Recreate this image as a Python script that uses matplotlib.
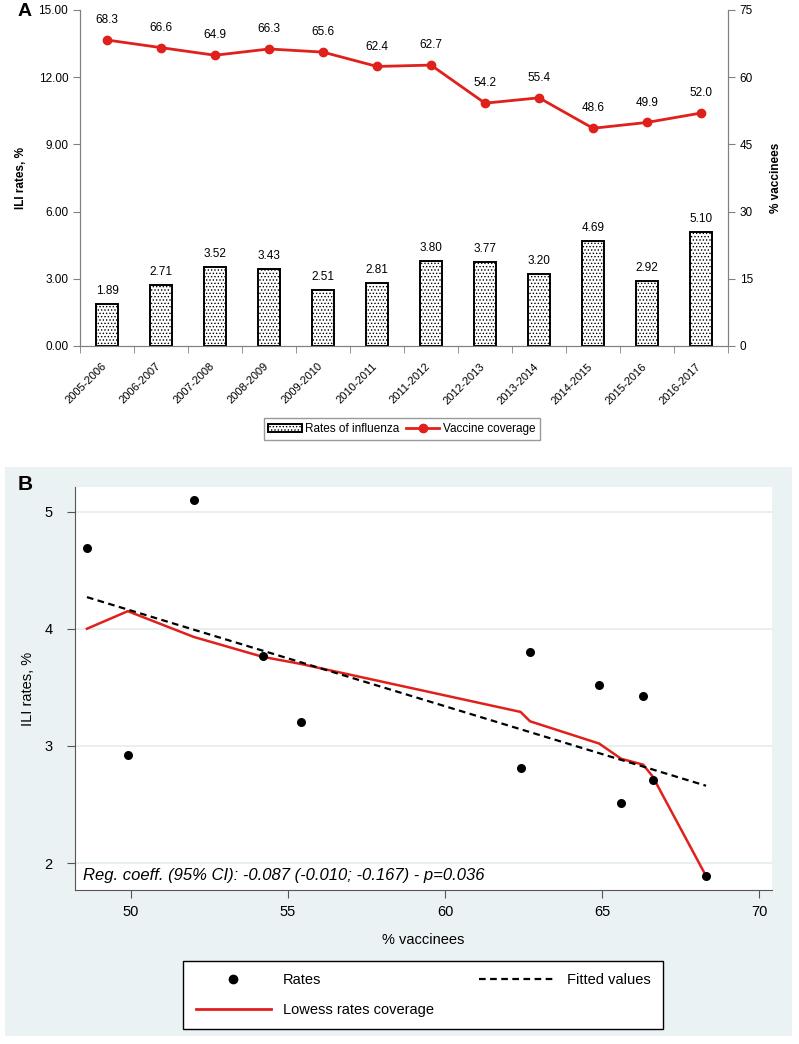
import matplotlib
matplotlib.use('Agg')
import matplotlib.pyplot as plt
import numpy as np
from matplotlib.patches import Rectangle
from matplotlib.lines import Line2D
from matplotlib.transforms import ScaledTranslation

plt.rcParams['font.family'] = ['Liberation Sans', 'DejaVu Sans']
plt.rcParams['hatch.linewidth'] = 0.6

# Panel A data
seasons = ['2005-2006', '2006-2007', '2007-2008', '2008-2009', '2009-2010', '2010-2011',
           '2011-2012', '2012-2013', '2013-2014', '2014-2015', '2015-2016', '2016-2017']
ili_rates = [1.89, 2.71, 3.52, 3.43, 2.51, 2.81, 3.80, 3.77, 3.20, 4.69, 2.92, 5.10]
coverage = [68.3, 66.6, 64.9, 66.3, 65.6, 62.4, 62.7, 54.2, 55.4, 48.6, 49.9, 52.0]

# Panel B: fitted and lowess lines
fitted_x = [48.6, 68.3]
fitted_y = [4.27, 2.66]
lowess_x = [48.6, 49.9, 52.0, 54.2, 55.4, 62.4, 62.7, 64.9, 65.6, 66.3, 66.6, 68.3]
lowess_y = [4.00, 4.15, 3.93, 3.76, 3.70, 3.29, 3.21, 3.02, 2.89, 2.84, 2.74, 1.89]

red = '#E0201B'
W, H = 799, 1044
fig = plt.figure(figsize=(W / 100, H / 100), dpi=100)

# ---------------- Panel A ----------------
axA = fig.add_axes([80 / W, 1 - 346 / H, 648 / W, 336 / H])
x = np.arange(len(seasons))
axA.bar(x, ili_rates, width=0.41, color='white', edgecolor='black', linewidth=1.4,
        hatch='.....', label='Rates of influenza')
for xi, v in zip(x, ili_rates):
    axA.annotate(f'{v:.2f}', (xi, v), xytext=(0, 5), textcoords='offset points',
                 ha='center', va='bottom', fontsize=8.5)
axA.set_xlim(-0.5, len(seasons) - 0.5)
axA.set_ylim(0, 15)
axA.set_yticks([0, 3, 6, 9, 12, 15])
axA.set_yticklabels([f'{t:.2f}' for t in [0, 3, 6, 9, 12, 15]], fontsize=8.5)
axA.set_xticks(x)
axA.set_xticklabels(seasons, rotation=45, ha='right', va='top', rotation_mode='anchor', fontsize=8)
axA.tick_params(axis='x', length=0, pad=11)
for lab in axA.get_xticklabels():
    lab.set_transform(lab.get_transform() + ScaledTranslation(-4 / 72, 0, fig.dpi_scale_trans))
axA.set_xticks(np.arange(-0.5, len(seasons)), minor=True)
axA.tick_params(axis='x', which='minor', length=5, color='#808080')
axA.tick_params(axis='y', length=5, color='#808080')
axA.spines['top'].set_visible(False)
for s in ['left', 'right', 'bottom']:
    axA.spines[s].set_color('#808080')
axA.set_ylabel('ILI rates, %', fontsize=8.5, fontweight='bold', labelpad=8)

axA2 = axA.twinx()
axA2.plot(x, coverage, color=red, linewidth=2, marker='o', markersize=6, label='Vaccine coverage')
for xi, v in zip(x, coverage):
    axA2.annotate(f'{v:.1f}', (xi, v), xytext=(0, 10), textcoords='offset points',
                  ha='center', va='bottom', fontsize=8.5)
axA2.set_ylim(0, 75)
axA2.set_yticks([0, 15, 30, 45, 60, 75])
axA2.tick_params(axis='y', labelsize=8.5, length=5, color='#808080')
axA2.spines['top'].set_visible(False)
for s in ['left', 'right', 'bottom']:
    axA2.spines[s].set_color('#808080')
axA2.set_ylabel('% vaccinees', fontsize=8.5, fontweight='bold', labelpad=12)

hA = [axA.patches[0], axA2.lines[0]]
fig.legend(hA, ['Rates of influenza', 'Vaccine coverage'], loc='center',
           bbox_to_anchor=(402 / W, 1 - 429 / H), ncol=2, fontsize=8.5, frameon=True,
           fancybox=False, edgecolor='#808080', handlelength=2.8, columnspacing=0.6,
           handletextpad=0.3, borderpad=0.4)

fig.text(18 / W, 1 - 12 / H, 'A', fontsize=14, fontweight='bold', va='center')

# ---------------- Panel B ----------------
bg = '#EAF2F3'
fig.patches.append(Rectangle((5 / W, 1 - 1036 / H), 787 / W, 569 / H,
                             transform=fig.transFigure, facecolor=bg, edgecolor='none', zorder=-5))
fig.text(18 / W, 1 - 485 / H, 'B', fontsize=15, fontweight='bold', va='center')

axB = fig.add_axes([75 / W, 1 - 890 / H, 697 / W, 403 / H])
axB.set_facecolor('white')
axB.set_xlim(48.22, 70.4)
axB.set_ylim(1.77, 5.21)
axB.set_yticks([2, 3, 4, 5])
axB.set_xticks([50, 55, 60, 65, 70])
axB.grid(axis='y', color='#E3ECEE', linewidth=1.2)
axB.set_axisbelow(True)
axB.scatter(coverage, ili_rates, s=30, color='black', zorder=3, label='Rates')
axB.plot(lowess_x, lowess_y, color=red, linewidth=1.8, zorder=2, label='Lowess rates coverage')
axB.plot(fitted_x, fitted_y, color='black', linestyle=(0, (3, 2)), linewidth=1.6, zorder=2,
         label='Fitted values')
axB.spines['top'].set_visible(False)
axB.spines['right'].set_visible(False)
axB.spines['left'].set_color('#555555')
axB.spines['bottom'].set_color('#555555')
axB.tick_params(labelsize=10.5, length=6, color='#555555')
axB.tick_params(axis='y', pad=10)
axB.tick_params(axis='x', pad=5)
axB.set_xlabel('% vaccinees', fontsize=10.5, labelpad=10)
axB.set_ylabel('ILI rates, %', fontsize=10.5, labelpad=7)
axB.text(0.011, 0.036, 'Reg. coeff. (95% CI): -0.087 (-0.010; -0.167) - p=0.036',
         transform=axB.transAxes, fontsize=12, style='italic', va='center')

hB = [Line2D([], [], marker='o', color='black', linestyle='none', markersize=6),
      Line2D([], [], color=red, linewidth=2),
      Line2D([], [], color='black', linestyle=(0, (3, 2)), linewidth=1.6)]
fig.legend(hB, ['Rates', 'Lowess rates coverage', 'Fitted values'], loc='upper center',
           bbox_to_anchor=(423 / W, 1 - 961 / H), ncol=2, fontsize=10.5, frameon=True,
           fancybox=False, edgecolor='black', facecolor='white', framealpha=1,
           handlelength=5.2, columnspacing=3.1, handletextpad=0.8, borderpad=0.85,
           labelspacing=1.05, borderaxespad=0)

fig.savefig('out.png', dpi=100)
